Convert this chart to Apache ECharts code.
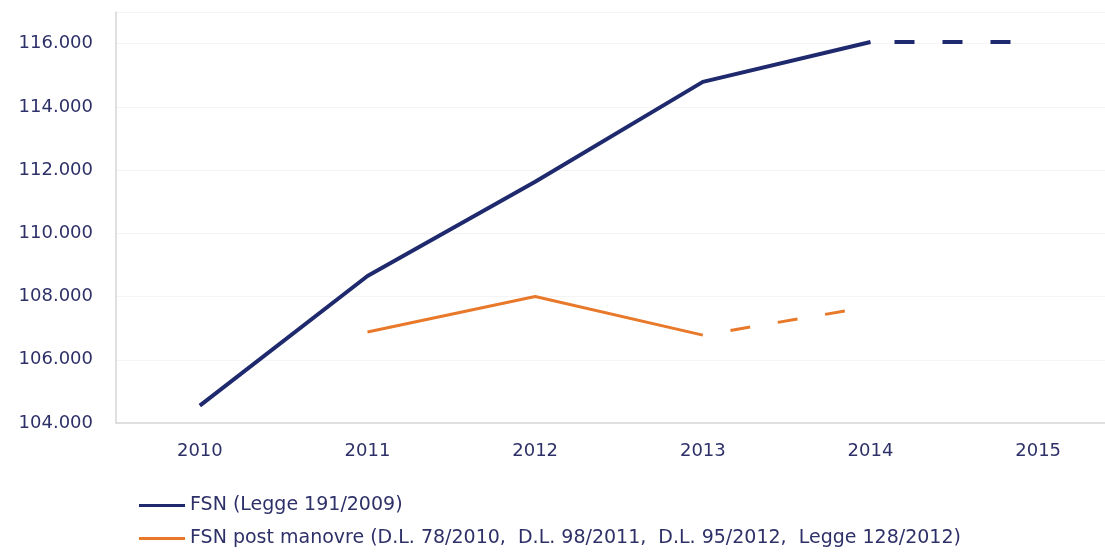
<!DOCTYPE html>
<html>
<head>
<meta charset="utf-8">
<script src="https://cdn.jsdelivr.net/npm/echarts@6/dist/echarts.min.js"></script>
<style>
  html, body { margin: 0; padding: 0; background: #ffffff; }
  #chart { width: 1105px; height: 554px; }
</style>
</head>
<body>
<div id="chart"></div>
<script>
// ---- data ----
const years = ['2010', '2011', '2012', '2013', '2014', '2015'];
const fsnLegge = [104550, 108650, 111630, 114790, 116050, 116050];
const fsnPost = [null, 106880, 108000, 106780, 107680, null];
const fsnLeggeLastActual = 4;   // index of 2014: after it the line is dashed
const fsnPostLastActual = 3;    // index of 2013: after it the line is dashed
const seriesNames = [
  'FSN (Legge 191/2009)',
  'FSN post manovre (D.L. 78/2010,  D.L. 98/2011,  D.L. 95/2012,  Legge 128/2012)'
];
const yTicks = { min: 104000, max: 117000, interval: 2000 };

// ---- split into solid / dashed parts ----
function solidPart(arr, last) { return arr.map((v, i) => (i <= last ? v : null)); }
function dashedPart(arr, last) { return arr.map((v, i) => (i >= last ? v : null)); }

const BLUE = '#1f2a6e';
const ORANGE = '#e8792a';
const TEXT = '#2e3068';
const FONT = 'DejaVu Sans';

function fmt(v) { return String(v).replace(/\B(?=(\d{3})+(?!\d))/g, '.'); }

const chart = echarts.init(document.getElementById('chart'), null, { renderer: 'canvas' });
chart.setOption({
  animation: false,
  backgroundColor: '#ffffff',
  grid: { left: 116, top: 12, width: 1006, height: 411, containLabel: false, outerBoundsMode: 'none' },
  xAxis: {
    type: 'category',
    data: years,
    boundaryGap: true,
    axisLine: { show: true, lineStyle: { color: '#d6d6d6', width: 1.5 } },
    axisTick: { show: false },
    axisLabel: { color: TEXT, fontFamily: FONT, fontSize: 18, margin: 19 },
    splitLine: { show: false }
  },
  yAxis: {
    type: 'value',
    min: yTicks.min,
    max: yTicks.max,
    interval: yTicks.interval,
    axisLine: { show: true, lineStyle: { color: '#d6d6d6', width: 1.5 } },
    axisTick: { show: false },
    axisLabel: { color: TEXT, fontFamily: FONT, fontSize: 18, margin: 23, showMaxLabel: false, formatter: fmt },
    splitLine: { show: true, lineStyle: { color: '#f4f4f4', width: 1 } }
  },
  legend: {
    show: true,
    orient: 'vertical',
    left: 139,
    top: 496,
    padding: 0,
    itemWidth: 46,
    itemHeight: 3,
    itemGap: 14,
    icon: 'rect',
    data: seriesNames,
    textStyle: { color: TEXT, fontFamily: FONT, fontSize: 19 }
  },
  series: [
    {
      name: seriesNames[0], type: 'line',
      data: solidPart(fsnLegge, fsnLeggeLastActual),
      symbol: 'none', connectNulls: false,
      lineStyle: { color: BLUE, width: 4 }, itemStyle: { color: BLUE }
    },
    {
      name: 'FSN (Legge 191/2009) stima', type: 'line',
      data: dashedPart(fsnLegge, fsnLeggeLastActual),
      symbol: 'none',
      lineStyle: { color: BLUE, width: 4, type: [20, 28], dashOffset: 24, cap: 'butt' },
      itemStyle: { color: BLUE }
    },
    {
      name: seriesNames[1], type: 'line',
      data: solidPart(fsnPost, fsnPostLastActual),
      symbol: 'none',
      lineStyle: { color: ORANGE, width: 3 }, itemStyle: { color: ORANGE }
    },
    {
      name: 'FSN post manovre stima', type: 'line',
      data: dashedPart(fsnPost, fsnPostLastActual),
      symbol: 'none',
      lineStyle: { color: ORANGE, width: 3, type: [20, 28], dashOffset: 20, cap: 'butt' },
      itemStyle: { color: ORANGE }
    }
  ]
});
</script>
</body>
</html>
